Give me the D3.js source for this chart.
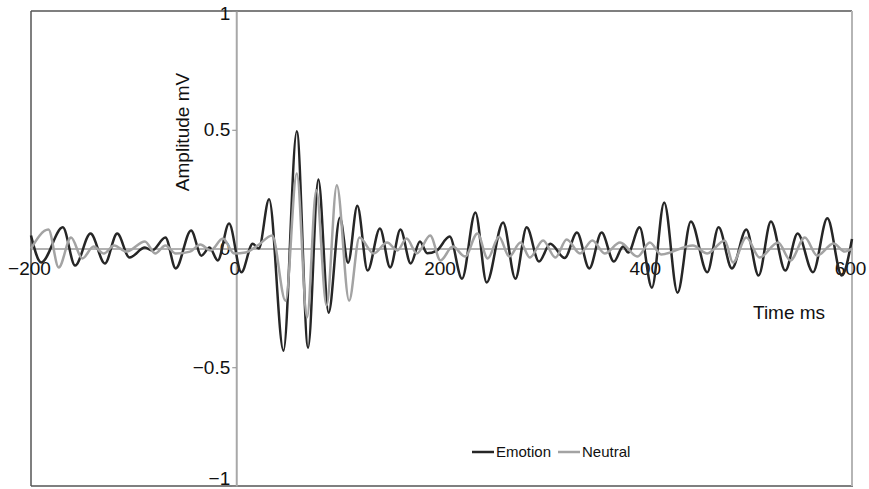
<!DOCTYPE html>
<html lang="en">
<head>
<meta charset="utf-8">
<script src="https://cdn.jsdelivr.net/npm/d3@7"></script>
<style type="text/css">
    body { margin: 0; background: #fff; }
    .axis text {
        font-family: "Liberation Sans", Arial, sans-serif;
        font-size: 19px;
        fill: #111;
    }
</style>
</head>
<body>
<script>
// time (ms) and amplitude (mV), peak by peak
const emotionTime = [-200, -190, -169, -157, -142, -128, -116, -104, -89, -82, -69, -59, -44, -34, -26, -18, -7,
    5, 16, 22, 32, 46, 59, 70, 80, 90, 101, 109, 118, 128, 140, 150, 160, 170, 179, 186, 195, 208,
    220, 233, 244, 260, 272, 283, 295, 306, 320, 332, 344, 356, 368, 377, 382, 393, 405, 417, 430,
    443, 459, 470, 483, 497, 509, 521, 535, 547, 562, 576, 590, 600];
const emotionValue = [0.055, -0.059, 0.089, -0.072, 0.063, -0.063, 0.063, -0.038, 0.004, -0.008, 0.046, -0.084, 0.076, -0.03, 0.004, -0.05, 0.105,
    -0.1, 0.02, 0, 0.207, -0.43, 0.494, -0.418, 0.29, -0.27, 0.13, -0.06, 0.18, -0.093, 0.084, -0.08, 0.08, -0.063, 0.03, -0.02, -0.01, 0.05,
    -0.127, 0.152, -0.143, 0.11, -0.127, 0.089, -0.055, 0.02, -0.04, 0.067, -0.084, 0.067, -0.055, 0.008, -0.017, 0.089, -0.165, 0.194, -0.186,
    0.114, -0.1, 0.089, -0.084, 0.08, -0.114, 0.114, -0.093, 0.063, -0.1, 0.127, -0.114, 0.04];

const neutralTime = [-200, -183, -173, -161, -150, -139, -129, -119, -107, -89, -79, -69, -59, -45, -35, -25, -13, -2,
    9, 21, 35, 48, 59, 69, 78, 88, 98, 110, 120, 134, 147, 157, 166, 176, 189, 199, 211, 223,
    235, 245, 256, 266, 277, 286, 299, 311, 322, 335, 347, 359, 374, 391, 403, 414, 445, 459,
    476, 484, 497, 510, 528, 540, 554, 566, 582, 593, 600];
const neutralValue = [0, 0.08, -0.08, 0.046, -0.042, 0.008, -0.021, 0.013, -0.013, 0.03, -0.021, 0.013, -0.021, -0.013, 0.017, -0.008, 0.042, -0.021,
    -0.017, 0.013, 0.055, -0.22, 0.316, -0.29, 0.245, -0.24, 0.266, -0.22, 0.046, -0.021, 0.025, -0.008, 0.042, -0.021, 0.055, -0.05, 0.008, -0.034,
    0.063, -0.042, 0.05, -0.034, 0.025, -0.038, 0.034, -0.038, 0.038, -0.021, 0.034, -0.021, 0.025, -0.034, 0.025, -0.025, 0.013, -0.021,
    0.034, -0.059, 0.046, -0.038, 0.025, -0.05, 0.046, -0.03, 0.021, -0.013, 0];

const xTicks = [-200, 0, 200, 400, 600];
const yTicks = [-1, -0.5, 0, 0.5, 1];
const seriesNames = ["Emotion", "Neutral"];

let w = 869;
let h = 489;
let svg = d3.select("body").append("svg")
    .attr("width", w)
    .attr("height", h);

let xScale = d3.scaleLinear().domain([-200, 600]).range([31, 852]);
let yScale = d3.scaleLinear().domain([-1, 1]).range([486, 11]);

// frame
svg.append("line").attr("x1", 31).attr("x2", 852).attr("y1", 11).attr("y2", 11)
    .attr("stroke", "#555").attr("stroke-width", 1.5);
svg.append("line").attr("x1", 31).attr("x2", 31).attr("y1", 11).attr("y2", 486)
    .attr("stroke", "#555").attr("stroke-width", 1.5);
svg.append("line").attr("x1", 31).attr("x2", 853).attr("y1", 486).attr("y2", 486)
    .attr("stroke", "#555").attr("stroke-width", 1.5);
svg.append("line").attr("x1", 852).attr("x2", 852).attr("y1", 11).attr("y2", 486)
    .attr("stroke", "#b5b5b5").attr("stroke-width", 2);

let fmt = d3.format("~g");

let yAxis = d3.axisLeft(yScale).tickValues(yTicks).tickSize(4).tickSizeOuter(0)
    .tickPadding(2).tickFormat(fmt);
let gy = svg.append("g")
    .attr("class", "axis")
    .attr("transform", "translate(" + xScale(0) + ",0)")
    .call(yAxis);
gy.select(".domain").attr("stroke", "#a8a8a8").attr("stroke-width", 2);
gy.selectAll(".tick line").attr("stroke", "#888");
// bottom label sits against the page edge, lift it a little
gy.selectAll(".tick text").filter((d) => d === -1).attr("dy", "-0.06em");
gy.selectAll(".tick text").filter((d) => d === 1).attr("dy", "0.45em");

let xAxis = d3.axisBottom(xScale).tickValues(xTicks).tickSize(0).tickSizeOuter(0)
    .tickPadding(13).tickFormat(fmt);
let gx = svg.append("g")
    .attr("class", "axis")
    .attr("transform", "translate(0," + yScale(0) + ")")
    .call(xAxis);
gx.select(".domain").attr("stroke", "#999").attr("stroke-width", 1.5);
gx.selectAll(".tick text").attr("dx", -2);

// waveforms
let line = d3.line()
    .x((d) => xScale(d[0]))
    .y((d) => yScale(d[1]))
    .curve(d3.curveMonotoneX);

let emotion = d3.zip(emotionTime, emotionValue);
let neutral = d3.zip(neutralTime, neutralValue);

svg.append("path")
    .datum(emotion)
    .attr("d", line)
    .attr("fill", "none")
    .attr("stroke", "#262626")
    .attr("stroke-width", 2.5);

svg.append("path")
    .datum(neutral)
    .attr("d", line)
    .attr("fill", "none")
    .attr("stroke", "#a3a3a3")
    .attr("stroke-width", 2.5);

// axis titles
svg.append("text")
    .attr("transform", "translate(189,132) rotate(-90)")
    .attr("text-anchor", "middle")
    .attr("font-family", "Liberation Sans, Arial, sans-serif")
    .attr("font-size", "19px")
    .attr("fill", "#111")
    .text("Amplitude mV");

svg.append("text")
    .attr("x", 753)
    .attr("y", 319)
    .attr("font-family", "Liberation Sans, Arial, sans-serif")
    .attr("font-size", "19px")
    .attr("fill", "#111")
    .text("Time ms");

// legend
let legendColors = ["#262626", "#a3a3a3"];
let legendX = [472, 558];
let lg = svg.append("g");
seriesNames.forEach((name, i) => {
    lg.append("line")
        .attr("x1", legendX[i]).attr("x2", legendX[i] + 22)
        .attr("y1", 452).attr("y2", 452)
        .attr("stroke", legendColors[i])
        .attr("stroke-width", 2.5);
    lg.append("text")
        .attr("x", legendX[i] + 24)
        .attr("y", 457)
        .attr("font-family", "Liberation Sans, Arial, sans-serif")
        .attr("font-size", "15px")
        .attr("fill", "#111")
        .text(name);
});
</script>
</body>
</html>
